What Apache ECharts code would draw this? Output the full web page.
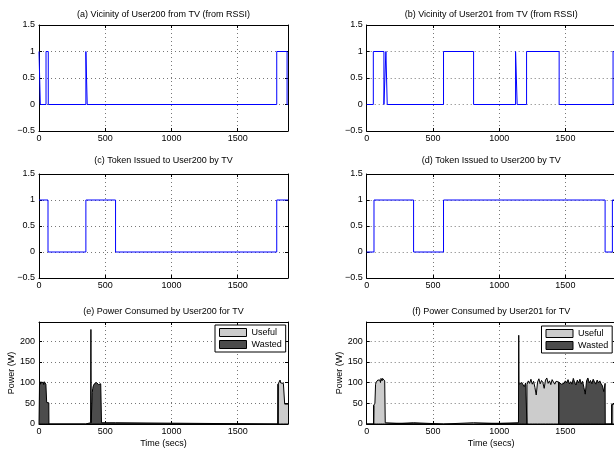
<!DOCTYPE html>
<html>
<head>
<meta charset="utf-8">
<title>TV vicinity, token and power</title>
<script src="https://cdn.jsdelivr.net/npm/echarts/dist/echarts.min.js"></script>
<style>
  html, body { margin: 0; padding: 0; background: #fff; overflow: hidden; }
  #chart { width: 620px; height: 449px; }
</style>
</head>
<body>
<div id="chart"></div>
<script>
// axis ranges / ticks
const timeTicks = [0, 500, 1000, 1500];
const timeMax = 1880;
const stateTicks = [-0.5, 0, 0.5, 1, 1.5];
const powerTicks = [0, 50, 100, 150, 200];
const powerMax = 246;

// step signals: [time (s), state], each state holds until the next point
const vicinity200 = [[0, 1], [10, 0], [53, 1], [70, 0], [354, 1], [364, 0], [1795, 1], [1873, 0], [1880, 0]];
const vicinity201 = [[0, 0], [50, 1], [130, 0], [145, 1], [155, 0], [580, 1], [807, 0], [1124, 1], [1136, 0],
  [1207, 1], [1453, 0], [1860, 1], [1880, 1]];
const token200 = [[0, 1], [68, 0], [354, 1], [578, 0], [1795, 1], [1880, 1]];
const token201 = [[0, 0], [55, 1], [354, 0], [580, 1], [1800, 0], [1855, 1], [1880, 1]];

// power traces: [time (s), watts]
const power200 = [[0, 0], [3, 0], [4, 97], [8, 102], [12, 96], [16, 101], [20, 99], [24, 103], [28, 97], [32, 100],
  [36, 95], [40, 102], [44, 98], [48, 101], [52, 96], [57, 99], [58, 52], [66, 50], [74, 51], [75, 0],
  [352, 0], [353, 3], [390, 3], [392, 228], [394, 3], [400, 3], [402, 76], [406, 86], [410, 92], [414, 88],
  [418, 97], [422, 95], [426, 99], [430, 96], [434, 100], [438, 98], [442, 97], [446, 99], [450, 95], [454, 98],
  [458, 96], [462, 94], [466, 97], [470, 93], [472, 3], [578, 3], [579, 0],
  [1804, 0], [1805, 96], [1810, 100], [1815, 97], [1820, 106], [1825, 99], [1830, 103], [1835, 96], [1840, 101],
  [1845, 98], [1850, 100], [1854, 97], [1855, 48], [1866, 47], [1880, 48]];
const power201 = [[0, 0], [52, 0], [53, 45], [58, 48], [62, 50], [65, 47], [67, 96], [72, 101], [76, 104], [80, 98],
  [84, 106], [88, 103], [92, 109], [96, 110], [100, 106], [104, 100], [108, 110], [112, 109], [116, 104],
  [120, 110], [124, 109], [128, 106], [132, 108], [136, 104], [139, 100], [140, 3], [354, 3], [355, 0],
  [579, 0], [580, 3], [807, 3], [1146, 3], [1148, 214], [1150, 96],
  [1160, 97], [1170, 100], [1180, 96], [1190, 90], [1200, 99], [1210, 95], [1220, 104], [1230, 98], [1240, 108],
  [1250, 96], [1260, 103], [1270, 88], [1280, 70], [1290, 101], [1300, 109], [1310, 97], [1320, 105], [1330, 100],
  [1340, 86], [1350, 106], [1360, 111], [1370, 98], [1380, 104], [1390, 95], [1400, 107], [1410, 101], [1420, 96],
  [1430, 103], [1440, 99], [1450, 101], [1460, 97], [1470, 96], [1480, 95], [1490, 98], [1500, 104], [1510, 99],
  [1520, 107], [1530, 97], [1540, 102], [1550, 96], [1560, 110], [1570, 100], [1580, 94], [1590, 106], [1600, 99],
  [1610, 108], [1620, 97], [1630, 103], [1640, 88], [1650, 72], [1660, 104], [1670, 111], [1680, 99], [1690, 105],
  [1700, 97], [1710, 108], [1720, 101], [1730, 96], [1740, 106], [1750, 99], [1760, 104], [1770, 97], [1780, 92],
  [1790, 78], [1800, 98], [1801, 0], [1850, 0], [1851, 47], [1880, 49]];

// time spans in which the consumed power counts as useful
const useful200 = [[1805, 1881]];
const useful201 = [[53, 140], [580, 807], [1210, 1450], [1851, 1881]];

const FONT = 'Liberation Sans, Helvetica, Arial, sans-serif';
const BLUE = '#0000ff';
const LIGHT = '#cccccc';
const DARK = '#4c4c4c';

// split one trace into the useful and the wasted area, with vertical edges where the owner changes
function splitTrace(trace, spans) {
  const isUseful = t => spans.some(([a, b]) => t >= a && t < b);
  const useful = [], wasted = [];
  let prev = null;
  trace.forEach(([t, w]) => {
    const u = isUseful(t);
    if (prev !== null && u !== prev) {
      const from = prev ? useful : wasted;
      const to = u ? useful : wasted;
      from.push([t, w], [t, 0]);
      to.push([t, 0], [t, w]);
    } else {
      (u ? useful : wasted).push([t, w]);
      (u ? wasted : useful).push([t, 0]);
    }
    prev = u;
  });
  return { useful, wasted };
}

const split200 = splitTrace(power200, useful200);
const split201 = splitTrace(power201, useful201);

const colX = [39, 366.7];
const plotW = 249;
const rows = [
  { top: 25, height: 106, titleY: 10 },
  { top: 174, height: 104, titleY: 156 },
  { top: 322, height: 104.5, titleY: 307 }
];

const panels = [
  { title: '(a) Vicinity of User200 from TV (from RSSI)', col: 0, row: 0, step: vicinity200 },
  { title: '(b) Vicinity of User201 from TV (from RSSI)', col: 1, row: 0, step: vicinity201 },
  { title: '(c) Token Issued to User200 by TV', col: 0, row: 1, step: token200 },
  { title: '(d) Token Issued to User200 by TV', col: 1, row: 1, step: token201 },
  { title: '(e) Power Consumed by User200 for TV', col: 0, row: 2, power: split200 },
  { title: '(f) Power Consumed by User201 for TV', col: 1, row: 2, power: split201 }
];

const label = { fontSize: 9, color: '#000', fontFamily: FONT };
const minus = v => (v < 0 ? '\u2212' + (-v) : String(v));

const grid = [], xAxis = [], yAxis = [], title = [], series = [];

panels.forEach((p, i) => {
  const r = rows[p.row];
  grid.push({ left: colX[p.col], top: r.top, width: plotW, height: r.height, containLabel: false });
  title.push({
    text: p.title, left: colX[p.col] + plotW / 2, top: r.titleY, textAlign: 'center', padding: 0,
    textStyle: { fontSize: 9, fontWeight: 'normal', color: '#000', fontFamily: FONT }
  });

  const isPower = !!p.power;
  const yMin = isPower ? powerTicks[0] : stateTicks[0];
  const yMax = isPower ? powerMax : stateTicks[stateTicks.length - 1];
  const yStep = isPower ? powerTicks[1] - powerTicks[0] : stateTicks[1] - stateTicks[0];
  const line = { show: true, onZero: false, lineStyle: { color: '#000', width: 1 } };
  const tick = { show: true, inside: true, length: 3, lineStyle: { color: '#000' } };
  const dotted = { show: true, lineStyle: { color: '#777', type: [1, 3], width: 1 } };

  xAxis.push({
    gridIndex: i, type: 'value', position: 'bottom', min: timeTicks[0], max: timeMax,
    interval: timeTicks[1] - timeTicks[0],
    axisLine: line, axisTick: tick, splitLine: dotted,
    axisLabel: Object.assign({ margin: 3, showMaxLabel: false, formatter: v => String(v) }, label),
    name: isPower ? 'Time (secs)' : '', nameLocation: 'middle', nameGap: 15,
    nameTextStyle: label
  });
  xAxis.push({
    gridIndex: i, type: 'value', position: 'top', min: timeTicks[0], max: timeMax,
    interval: timeTicks[1] - timeTicks[0],
    axisLine: line, axisTick: tick, splitLine: { show: false }, axisLabel: { show: false }
  });
  yAxis.push({
    gridIndex: i, type: 'value', position: 'left', min: yMin, max: yMax, interval: yStep,
    axisLine: line, axisTick: tick, splitLine: dotted,
    axisLabel: Object.assign({ margin: 4, showMaxLabel: !isPower, formatter: minus }, label),
    name: isPower ? 'Power (W)' : '', nameLocation: 'middle', nameGap: 23,
    nameTextStyle: label
  });
  yAxis.push({
    gridIndex: i, type: 'value', position: 'right', min: yMin, max: yMax, interval: yStep,
    axisLine: line, axisTick: tick, splitLine: { show: false }, axisLabel: { show: false }
  });

  if (isPower) {
    [['Useful', p.power.useful, LIGHT], ['Wasted', p.power.wasted, DARK]].forEach(([name, data, color]) => {
      series.push({
        name, type: 'line', xAxisIndex: 2 * i, yAxisIndex: 2 * i, data, color,
        showSymbol: false, symbol: 'none', silent: true,
        lineStyle: { color: '#000', width: 1 },
        areaStyle: { color, opacity: 1 }
      });
    });
  } else {
    series.push({
      type: 'line', xAxisIndex: 2 * i, yAxisIndex: 2 * i, data: p.step, step: 'end',
      showSymbol: false, symbol: 'none', silent: true,
      lineStyle: { color: BLUE, width: 1 }
    });
  }
});

const legendBase = {
  orient: 'vertical', itemWidth: 27, itemHeight: 8, itemGap: 3, padding: [3, 4, 3, 4],
  borderColor: '#000', borderWidth: 1, backgroundColor: '#fff', selectedMode: false,
  textStyle: label,
  data: [
    { name: 'Useful', icon: 'rect', itemStyle: { color: LIGHT, borderColor: '#000', borderWidth: 1 } },
    { name: 'Wasted', icon: 'rect', itemStyle: { color: DARK, borderColor: '#000', borderWidth: 1 } }
  ]
};

const chart = echarts.init(document.getElementById('chart'));
chart.setOption({
  animation: false,
  backgroundColor: '#fff',
  textStyle: { fontFamily: FONT },
  title,
  grid,
  xAxis,
  yAxis,
  series,
  legend: [
    Object.assign({ left: 215, top: 325 }, legendBase),
    Object.assign({ left: 541.5, top: 326 }, legendBase)
  ]
});
</script>
</body>
</html>
